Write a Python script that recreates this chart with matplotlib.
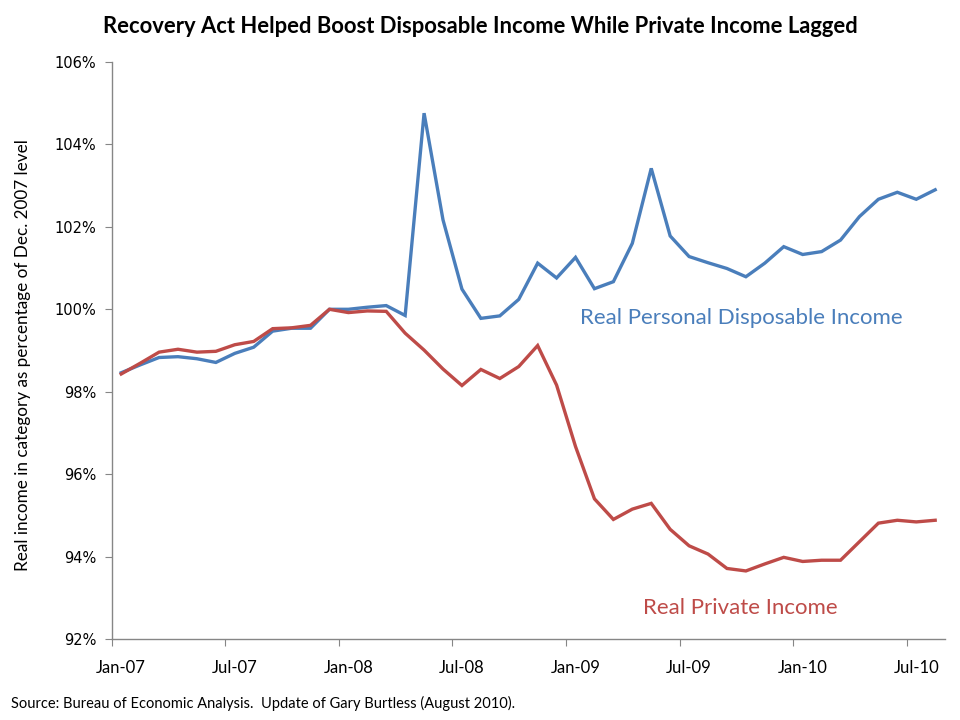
import numpy as np
import pandas as pd
import matplotlib
matplotlib.use("Agg")
import matplotlib.pyplot as plt
from matplotlib.ticker import FixedLocator, PercentFormatter

# monthly, Jan 2007 .. Aug 2010, index Dec 2007 = 100
months = pd.date_range("2007-01-01", periods=44, freq="MS")

disposable = [98.46, 98.65, 98.83, 98.85, 98.80, 98.71, 98.93, 99.08, 99.47, 99.54,
              99.54, 100.00, 100.00, 100.05, 100.09, 99.85, 104.76, 102.17, 100.49, 99.78,
              99.84, 100.24, 101.12, 100.76, 101.26, 100.50, 100.67, 101.60, 103.42, 101.78,
              101.28, 101.13, 100.99, 100.79, 101.12, 101.52, 101.33, 101.40, 101.68, 102.25,
              102.67, 102.84, 102.67, 102.90]

private = [98.43, 98.69, 98.96, 99.03, 98.96, 98.98, 99.14, 99.22, 99.53, 99.55,
           99.61, 100.00, 99.92, 99.96, 99.95, 99.42, 99.01, 98.55, 98.15, 98.54,
           98.32, 98.61, 99.12, 98.16, 96.67, 95.40, 94.90, 95.15, 95.29, 94.66,
           94.26, 94.06, 93.71, 93.65, 93.82, 93.98, 93.88, 93.91, 93.91, 94.36,
           94.81, 94.88, 94.84, 94.88]

tick_labels = ["Jan-07", "Jul-07", "Jan-08", "Jul-08", "Jan-09", "Jul-09", "Jan-10", "Jul-10"]

blue = "#4A7EBB"
red = "#BE4B48"
grey = "#868686"

fig = plt.figure(figsize=(9.6, 7.2), dpi=100)
ax = fig.add_axes([0.1164, 0.1126, 0.8676, 0.8012])

x = np.arange(len(months))
ax.plot(x, disposable, color=blue, lw=2.4, solid_joinstyle="miter")
ax.plot(x, private, color=red, lw=2.4, solid_joinstyle="miter")

ax.set_xlim(-0.5, len(months) - 0.5)
ax.set_ylim(92, 106)

# y axis
ax.set_yticks(np.arange(92, 107, 2))
ax.yaxis.set_major_formatter(PercentFormatter(decimals=0))
ax.tick_params(axis="y", direction="out", length=5, color=grey, labelsize=10.5,
               pad=6, labelcolor="black")
for t in ax.get_yticklabels():
    t.set_fontfamily("DejaVu Sans")

# x axis: tick marks on category edges, labels on category centres
ax.xaxis.set_major_locator(FixedLocator(np.arange(-0.5, len(months), 6)))
ax.xaxis.set_minor_locator(FixedLocator(np.arange(0, len(months), 6)))
ax.set_xticklabels([], minor=False)
ax.set_xticklabels(tick_labels, minor=True, fontfamily="Lato", fontsize=12)
ax.tick_params(axis="x", which="major", direction="out", length=5, color=grey)
ax.tick_params(axis="x", which="minor", length=0, pad=15)

for s in ["top", "right"]:
    ax.spines[s].set_visible(False)
for s in ["left", "bottom"]:
    ax.spines[s].set_color(grey)
    ax.spines[s].set_linewidth(1)

ax.set_ylabel("Real income in category as percentage of Dec. 2007 level",
              fontfamily="Lato", fontsize=12.3)
ax.yaxis.set_label_coords(-0.097, 0.492)

fig.text(0.5, 0.963, "Recovery Act Helped Boost Disposable Income While Private Income Lagged",
         ha="center", va="center", fontfamily="Lato", fontweight="bold", fontsize=15.8)

ax.text(32.74, 99.8, "Real Personal Disposable Income", color=blue, fontfamily="Lato",
        fontsize=16, ha="center", va="center")
ax.text(32.7, 92.75, "Real Private Income", color=red, fontfamily="Lato",
        fontsize=16, ha="center", va="center")

fig.text(0.011, 0.023, "Source: Bureau of Economic Analysis.  Update of Gary Burtless (August 2010).",
         fontfamily="Lato", fontsize=10.5, ha="left", va="center")

fig.savefig("out.png", dpi=100)
